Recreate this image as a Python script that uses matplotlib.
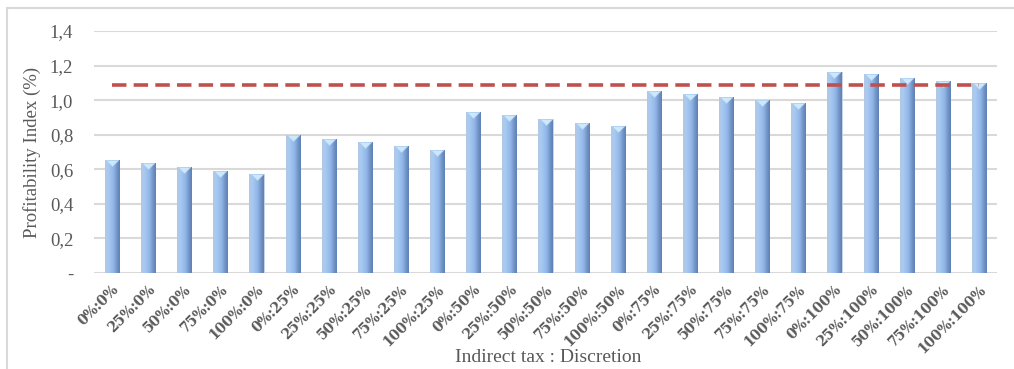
import numpy as np
import matplotlib
matplotlib.use('Agg')
import matplotlib.pyplot as plt
from matplotlib.colors import LinearSegmentedColormap
from matplotlib.patches import Rectangle
from matplotlib.ticker import FuncFormatter

plt.rcParams['font.family'] = ['Liberation Serif', 'DejaVu Serif']

# indirect tax share : discretion share
labels = ['0%:0%', '25%:0%', '50%:0%', '75%:0%', '100%:0%',
          '0%:25%', '25%:25%', '50%:25%', '75%:25%', '100%:25%',
          '0%:50%', '25%:50%', '50%:50%', '75%:50%', '100%:50%',
          '0%:75%', '25%:75%', '50%:75%', '75%:75%', '100%:75%',
          '0%:100%', '25%:100%', '50%:100%', '75%:100%', '100%:100%']
profit_index = [0.655, 0.635, 0.615, 0.592, 0.573,
                0.796, 0.777, 0.756, 0.735, 0.713,
                0.932, 0.912, 0.892, 0.870, 0.849,
                1.054, 1.038, 1.019, 1.000, 0.981,
                1.164, 1.149, 1.130, 1.113, 1.097]
baseline = 1.09

grey = '#595959'

fig = plt.figure(figsize=(10.14, 3.69), dpi=100)
# light chart frame
fig.patches.append(Rectangle((7 / 1014, -0.1), 1.2, (369 - 8) / 369 + 0.1,
                             transform=fig.transFigure, fill=False,
                             edgecolor='#d9d9d9', lw=1.5))
ax = fig.add_axes([94 / 1014, 96 / 369, 903 / 1014, 242 / 369])

x = np.arange(len(labels))
bars = ax.bar(x, profit_index, width=0.39, color='#98bdec',
              edgecolor='#c8d3e0', lw=0.6, zorder=3)

# cylinder-like shading on each bar
shade = LinearSegmentedColormap.from_list(
    'shade', ['#b3c8e2', '#a8caf3', '#9cc0ee', '#8fb3e4', '#7395c8', '#5f80b2'])
grad = np.linspace(0, 1, 64).reshape(1, -1)
for b in bars:
    x0, w, h = b.get_x(), b.get_width(), b.get_height()
    im = ax.imshow(grad, cmap=shade, aspect='auto', zorder=4,
                   extent=(x0, x0 + w, 0, h), interpolation='bicubic')
    im.set_clip_path(b)

# light caps on the bar tops
cap = [(-1, 0.5), (1, 0.5), (0, -0.5), (-1, 0.5)]
ax.plot(x, np.array(profit_index) - 0.017, ls='none', marker=cap,
        ms=9, mfc='#cbe8fc', mec='#b0d2f0', mew=0.5, zorder=5)

ax.plot([x[0], x[-1]], [baseline, baseline], color='#c0504d', lw=2.6,
        ls=(0, (4, 2)), zorder=6, solid_capstyle='butt')

ax.set_xlim(-0.5, len(labels) - 0.5)
ax.set_ylim(0, 1.4)
ax.set_yticks(np.arange(0, 1.41, 0.2))
ax.yaxis.set_major_formatter(FuncFormatter(
    lambda v, p: '-' if abs(v) < 1e-9 else f'{v:.1f}'.replace('.', ',')))
ax.grid(axis='y', color='#d9d9d9', lw=1.5, zorder=0)
ax.set_axisbelow(True)
for s in ax.spines.values():
    s.set_visible(False)
ax.tick_params(axis='both', length=0, colors=grey)
ax.tick_params(axis='y', labelsize=13.5, pad=15)

ax.set_xticks(x)
ax.set_xticklabels(labels, rotation=45, ha='right', rotation_mode='anchor',
                   fontsize=10, fontweight='bold', color=grey,
                   family=['DejaVu Serif'])
ax.tick_params(axis='x', pad=7)

ax.set_ylabel('Profitability Index (%)', fontsize=13.5, color=grey, labelpad=6)
fig.text(548 / 1014, 11 / 369, 'Indirect tax : Discretion', ha='center',
         va='center', fontsize=14, color=grey)

fig.savefig('out.png', dpi=100)
